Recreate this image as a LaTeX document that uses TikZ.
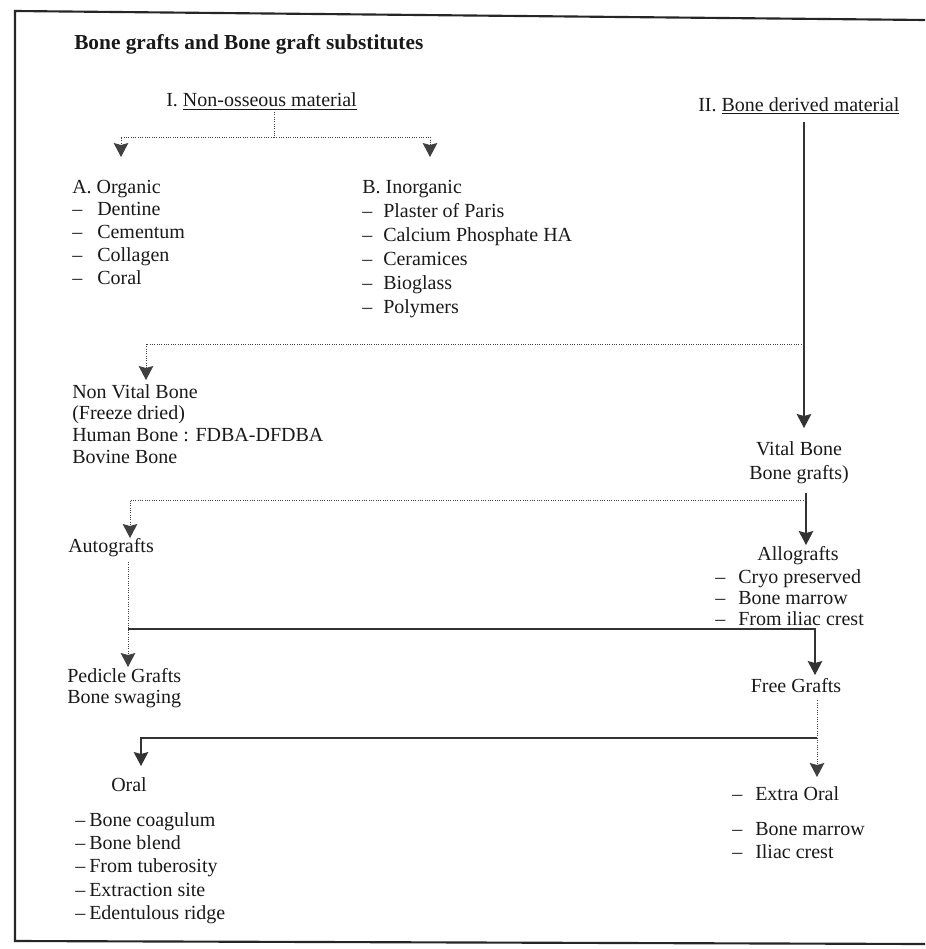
\documentclass[tikz,border=0pt]{standalone}
\usepackage{fontspec}
\setmainfont{Liberation Serif}
\usetikzlibrary{arrows.meta,positioning}

% list entry with a dash in a box of given width
\newcommand{\itm}[2][18.75pt]{\makebox[#1][l]{--}#2}
% lines stacked, baseline on the first line
\newcommand{\stack}[2][l]{\begin{tabular}[t]{@{}#1@{}}#2\end{tabular}}

\begin{document}
\begin{tikzpicture}[x=0.75pt, y=-0.75pt,
    >={Stealth[width=11pt,length=10.5pt,inset=1.5pt]},
    txt/.style={font=\fontsize{15}{#1}\selectfont, inner sep=0pt, anchor=base west, text=black!90},
    txt/.default=17.6pt,
    ctxt/.style={txt=#1, anchor=base},
    ctxt/.default=18pt,
    fine/.style={line width=0.75pt, densely dotted, black!75},
    link/.style={line width=0.85pt, black!80}]
        \useasboundingbox (0,0) rectangle (925,949);

        % Frame
        \draw[line width=1.6pt, black!85] (925,20) -- (15,11) -- (15,941) -- (925,944);

        % Nodes
        \node (title) [txt, font=\fontsize{16}{19}\selectfont\bfseries] at (74,50) {Bone grafts and Bone graft substitutes};
        \node (nonoss) [txt] at (166,107) {I. \underline{Non-osseous material}};
        \node (bonederiv) [txt] at (698,111) {II. \underline{Bone derived material}};
        \node (organic) [txt=17.2pt] at (72,193) {\stack{A. Organic\\\itm{Dentine}\\\itm{Cementum}\\\itm{Collagen}\\\itm{Coral}}};
        \node (inorganic) [txt=18pt] at (362,193) {\stack{B. Inorganic\\\itm[15.75pt]{Plaster of Paris}\\\itm[15.75pt]{Calcium Phosphate HA}\\\itm[15.75pt]{Ceramices}\\\itm[15.75pt]{Bioglass}\\\itm[15.75pt]{Polymers}}};
        \node (nonvital) [txt=16.3pt] at (72,398) {\stack{Non Vital Bone\\(Freeze dried)\\Human Bone : FDBA-DFDBA\\Bovine Bone}};
        \node (vital) [ctxt] at (799,455) {\stack[c]{Vital Bone\\Bone grafts)}};
        \node (auto) [txt] at (68,552) {Autografts};
        \node (allo) [ctxt] at (798,560) {Allografts};
        \node (allolist) [txt=16pt] at (715,583) {\stack{\itm[17.25pt]{Cryo preserved}\\\itm[17.25pt]{Bone marrow}\\\itm[17.25pt]{From iliac crest}}};
        \node (pedicle) [txt=15.75pt] at (67,682) {\stack{Pedicle Grafts\\Bone swaging}};
        \node (free) [ctxt] at (796,692) {Free Grafts};
        \node (oral) [txt] at (111,791) {Oral};
        \node (orallist) [txt=17.6pt] at (75,826) {\stack{\itm[10.5pt]{Bone coagulum}\\\itm[10.5pt]{Bone blend}\\\itm[10.5pt]{From tuberosity}\\\itm[10.5pt]{Extraction site}\\\itm[10.5pt]{Edentulous ridge}}};
        \node (extra) [txt=17.25pt] at (732,800) {\stack{\itm[17.25pt]{Extra Oral}\\[9pt]\itm[17.25pt]{Bone marrow}\\\itm[17.25pt]{Iliac crest}}};

        % Junctions and arrow ends
        \coordinate (j1) at (274,137);
        \coordinate (org-in) at (121,157);
        \coordinate (inorg-in) at (430,157);
        \coordinate (j2) at (804,344);
        \coordinate (vital-in) at (804,428);
        \coordinate (nonvital-in) at (146,380);
        \coordinate (j3) at (806,500);
        \coordinate (allo-in) at (806,545);
        \coordinate (auto-in) at (130,538);
        \coordinate (j4) at (128,629);
        \coordinate (pedicle-in) at (128,667);
        \coordinate (free-in) at (815,675);
        \coordinate (j5) at (817,738);
        \coordinate (extra-in) at (817,777);
        \coordinate (oral-in) at (141,766);

        % Non-osseous branch
        \draw[fine, shorten <=1.5pt] (nonoss.south -| j1) -- (j1);
        \draw[fine,->] (j1) -| (org-in);
        \draw[fine,->] (j1) -| (inorg-in);

        % Bone derived branch
        \draw[link,->, shorten <=6pt] (bonederiv.south -| vital-in) -- (vital-in);
        \draw[fine,->] (j2) -| (nonvital-in);

        % Vital bone
        \draw[link,->, shorten <=5pt] (vital.south -| allo-in) -- (allo-in);
        \draw[fine,->] (j3) -| (auto-in);

        % Autografts
        \draw[fine,->, shorten <=4pt] (auto.south -| pedicle-in) -- (pedicle-in);
        \draw[link,->] (j4) -| (free-in);

        % Free grafts
        \draw[fine,->, shorten <=6pt] (free.south -| extra-in) -- (extra-in);
        \draw[link,->] (j5) -| (oral-in);
    \end{tikzpicture}
\end{document}
